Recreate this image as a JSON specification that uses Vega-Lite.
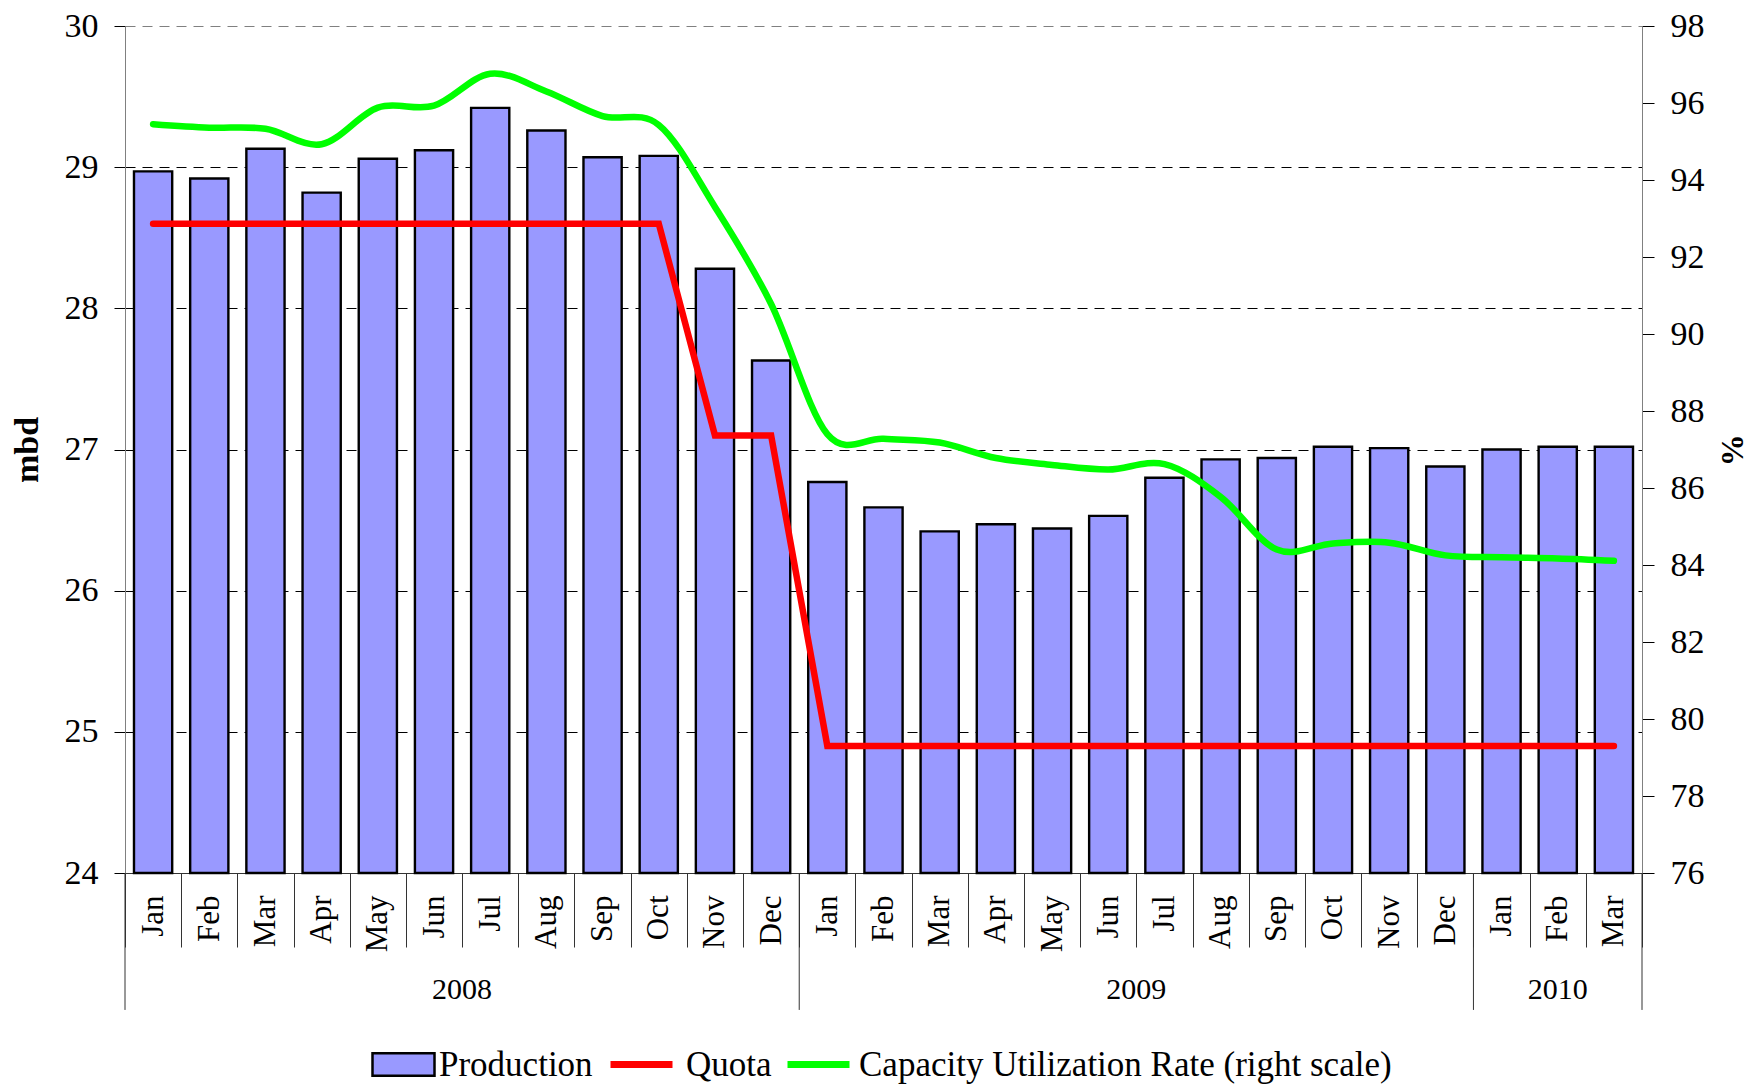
{
  "$schema": "https://vega.github.io/schema/vega-lite/v6.json",
  "width": 1517,
  "height": 847,
  "autosize": "none",
  "padding": {"left": 125, "top": 26, "right": 113, "bottom": 211},
  "background": "white",
  "config": {
    "view": {"stroke": null},
    "font": "Liberation Serif",
    "axis": {"labelFont": "Liberation Serif", "titleFont": "Liberation Serif", "labelColor": "black", "titleColor": "black"},
    "legend": {"labelFont": "Liberation Serif", "labelFontSize": 35, "labelColor": "black", "labelLimit": 800, "padding": 0, "title": null, "direction": "horizontal", "symbolSize": 3844, "symbolOpacity": 1}
  },
  "data": {
    "values": [
      {"period": "Jan 2008", "production": 28.97, "quota": 28.6, "capacity": 95.45},
      {"period": "Feb 2008", "production": 28.92, "quota": 28.6, "capacity": 95.36},
      {"period": "Mar 2008", "production": 29.13, "quota": 28.6, "capacity": 95.33},
      {"period": "Apr 2008", "production": 28.82, "quota": 28.6, "capacity": 94.93},
      {"period": "May 2008", "production": 29.06, "quota": 28.6, "capacity": 95.88},
      {"period": "Jun 2008", "production": 29.12, "quota": 28.6, "capacity": 95.93},
      {"period": "Jul 2008", "production": 29.42, "quota": 28.6, "capacity": 96.76},
      {"period": "Aug 2008", "production": 29.26, "quota": 28.6, "capacity": 96.3},
      {"period": "Sep 2008", "production": 29.07, "quota": 28.6, "capacity": 95.66},
      {"period": "Oct 2008", "production": 29.08, "quota": 28.6, "capacity": 95.43},
      {"period": "Nov 2008", "production": 28.28, "quota": 27.1, "capacity": 93.3},
      {"period": "Dec 2008", "production": 27.63, "quota": 27.1, "capacity": 90.78},
      {"period": "Jan 2009", "production": 26.77, "quota": 24.9, "capacity": 87.4},
      {"period": "Feb 2009", "production": 26.59, "quota": 24.9, "capacity": 87.28},
      {"period": "Mar 2009", "production": 26.42, "quota": 24.9, "capacity": 87.18},
      {"period": "Apr 2009", "production": 26.47, "quota": 24.9, "capacity": 86.78},
      {"period": "May 2009", "production": 26.44, "quota": 24.9, "capacity": 86.6},
      {"period": "Jun 2009", "production": 26.53, "quota": 24.9, "capacity": 86.48},
      {"period": "Jul 2009", "production": 26.8, "quota": 24.9, "capacity": 86.62},
      {"period": "Aug 2009", "production": 26.93, "quota": 24.9, "capacity": 85.77},
      {"period": "Sep 2009", "production": 26.94, "quota": 24.9, "capacity": 84.4},
      {"period": "Oct 2009", "production": 27.02, "quota": 24.9, "capacity": 84.56},
      {"period": "Nov 2009", "production": 27.01, "quota": 24.9, "capacity": 84.58},
      {"period": "Dec 2009", "production": 26.88, "quota": 24.9, "capacity": 84.25},
      {"period": "Jan 2010", "production": 27.0, "quota": 24.9, "capacity": 84.2},
      {"period": "Feb 2010", "production": 27.02, "quota": 24.9, "capacity": 84.17},
      {"period": "Mar 2010", "production": 27.02, "quota": 24.9, "capacity": 84.11}
    ]
  },
  "encoding": {
    "x": {
      "field": "period",
      "type": "nominal",
      "sort": null,
      "scale": {
        "domain": ["Jan 2008","Feb 2008","Mar 2008","Apr 2008","May 2008","Jun 2008","Jul 2008","Aug 2008","Sep 2008","Oct 2008","Nov 2008","Dec 2008","Jan 2009","Feb 2009","Mar 2009","Apr 2009","May 2009","Jun 2009","Jul 2009","Aug 2009","Sep 2009","Oct 2009","Nov 2009","Dec 2009","Jan 2010","Feb 2010","Mar 2010"],
        "paddingInner": 0,
        "paddingOuter": 0
      },
      "axis": {
        "title": null,
        "labelExpr": "split(datum.label, ' ')[0]",
        "labelAngle": 270,
        "labelAlign": "right",
        "labelBaseline": "middle",
        "labelFontSize": 31,
        "labelPadding": -52,
        "tickBand": "extent",
        "tickSize": 74,
        "tickColor": "#333333",
        "domainColor": "#333333",
        "grid": false
      }
    }
  },
  "layer": [
    {
      "layer": [
        {
          "mark": {"type": "bar", "width": {"band": 0.68}, "stroke": "black", "strokeWidth": 2.4},
          "encoding": {
            "y": {
              "field": "production",
              "type": "quantitative",
              "scale": {"domain": [24, 30], "zero": false, "nice": false},
              "axis": {
                "title": "mbd",
                "format": "d",
                "titleFontSize": 34,
                "titleFontWeight": "bold",
                "titlePadding": 20,
                "labelFontSize": 34,
                "labelPadding": 16,
                "tickSize": 11,
                "tickColor": "black",
                "domainColor": "#808080",
                "values": [24, 25, 26, 27, 28, 29, 30],
                "grid": true,
                "gridDash": [10, 7],
                "gridColor": {"condition": {"test": "datum.value === 30", "value": "#808080"}, "value": "black"},
                "gridWidth": 1
              }
            },
            "y2": {"datum": 24},
            "fill": {
              "datum": "Production",
              "scale": {"domain": ["Production"], "range": ["#9999FF"]},
              "legend": {
                "orient": "none",
                "legendX": 246,
                "legendY": 1006,
                "symbolType": "M-1,-0.36H1V0.36H-1Z",
                "symbolFillColor": "#9999FF",
                "symbolStrokeColor": "black",
                "symbolStrokeWidth": 2.5,
                "labelOffset": 3
              }
            }
          }
        },
        {
          "mark": {"type": "line", "strokeWidth": 6.5, "strokeCap": "round"},
          "encoding": {
            "y": {"field": "quota", "type": "quantitative"},
            "stroke": {
              "datum": "Quota",
              "scale": {"domain": ["Quota"], "range": ["#FF0000"]},
              "legend": {
                "orient": "none",
                "legendX": 482,
                "legendY": 1004,
                "symbolType": "stroke",
                "symbolStrokeWidth": 7,
                "labelOffset": 10
              }
            }
          }
        },
        {
          "data": {"values": [{"at": "Jan 2008"}, {"at": "Jan 2009"}, {"at": "Jan 2010"}]},
          "mark": {"type": "rule", "color": "#333333", "strokeWidth": 1},
          "encoding": {
            "x": {"field": "at", "type": "nominal", "sort": null, "bandPosition": 0},
            "y": {"datum": 24},
            "y2": {"datum": 23.03}
          }
        },
        {
          "data": {"values": [{"at": "Mar 2010"}]},
          "mark": {"type": "rule", "color": "#333333", "strokeWidth": 1},
          "encoding": {
            "x": {"field": "at", "type": "nominal", "sort": null, "bandPosition": 1},
            "y": {"datum": 24},
            "y2": {"datum": 23.03}
          }
        },
        {
          "data": {"values": [{"year": "2008", "at": "Jul 2008"}, {"year": "2009", "at": "Jul 2009"}]},
          "mark": {"type": "text", "fontSize": 30, "font": "Liberation Serif", "align": "center", "baseline": "middle", "color": "black"},
          "encoding": {
            "x": {"field": "at", "type": "nominal", "sort": null, "bandPosition": 0},
            "y": {"datum": 23.17},
            "text": {"field": "year"}
          }
        },
        {
          "data": {"values": [{"year": "2010", "at": "Feb 2010"}]},
          "mark": {"type": "text", "fontSize": 30, "font": "Liberation Serif", "align": "center", "baseline": "middle", "color": "black"},
          "encoding": {
            "x": {"field": "at", "type": "nominal", "sort": null, "bandPosition": 0.5},
            "y": {"datum": 23.17},
            "text": {"field": "year"}
          }
        }
      ]
    },
    {
      "mark": {"type": "line", "strokeWidth": 6.5, "strokeCap": "round", "interpolate": "cardinal"},
      "encoding": {
        "y": {
          "field": "capacity",
          "type": "quantitative",
          "scale": {"domain": [76, 98], "zero": false, "nice": false},
          "axis": {
            "orient": "right",
            "title": "%",
            "titleFontSize": 32,
            "titleFontWeight": "bold",
            "titlePadding": 10,
            "labelFontSize": 34,
            "labelPadding": 16,
            "tickSize": 12,
            "tickColor": "black",
            "domainColor": "#808080",
            "values": [76, 78, 80, 82, 84, 86, 88, 90, 92, 94, 96, 98],
            "grid": false
          }
        },
        "color": {
          "datum": "Capacity Utilization Rate (right scale)",
          "scale": {"domain": ["Capacity Utilization Rate (right scale)"], "range": ["#00FF00"]},
          "legend": {
            "orient": "none",
            "legendX": 659,
            "legendY": 1004,
            "symbolType": "stroke",
            "symbolStrokeWidth": 7,
            "labelOffset": 6
          }
        }
      }
    }
  ],
  "resolve": {"scale": {"y": "independent"}, "axis": {"y": "independent"}}
}
